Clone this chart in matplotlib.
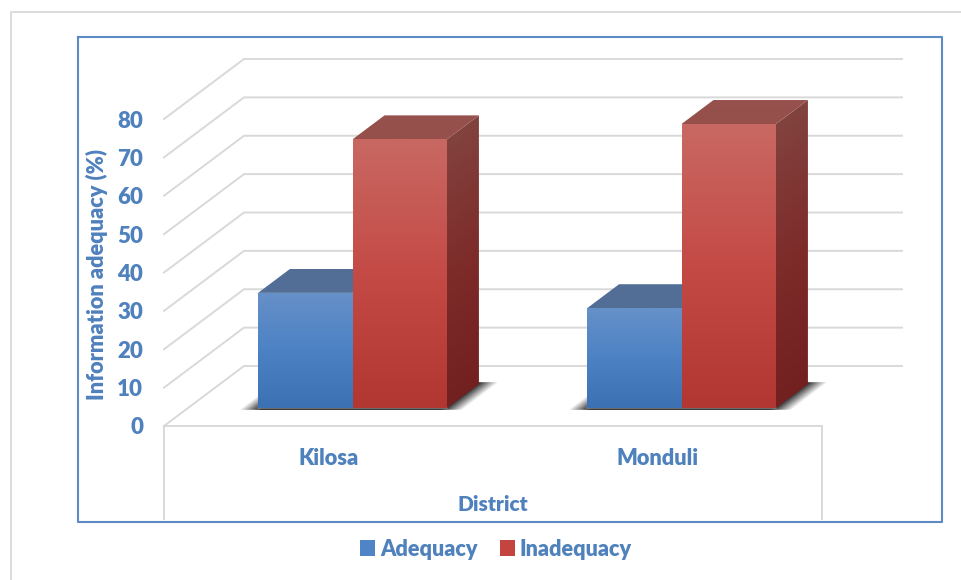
import numpy as np
import matplotlib
matplotlib.use("Agg")
import matplotlib.pyplot as plt
from matplotlib.patches import Patch, Polygon
from matplotlib.transforms import Affine2D

# chart data
districts = ["Kilosa", "Monduli"]
adequacy = [30, 26]
inadequacy = [70, 74]
y_ticks = [0, 10, 20, 30, 40, 50, 60, 70, 80]

# pixel layout of the original
W, H = 961, 580
left, right, top, bottom = 164, 822, 119, 426
px_x = (right - left) / 2.0  # pixels per category
px_y = (bottom - top) / 80.0  # pixels per percent
depth_x = 80 / px_x  # oblique shift of the back wall, data units
depth_y = 60 / px_y
bar_w = 0.287
bar_d0, bar_d1 = 0.3, 0.7

text_blue = "#4F81BD"
grid_grey = "#D9D9D9"

plt.rcParams["font.family"] = ["Lato", "DejaVu Sans"]
plt.rcParams["font.weight"] = 800
plt.rcParams["axes.labelweight"] = 800

fig = plt.figure(figsize=(W / 100, H / 100), dpi=100)

# page frames live in their own pixel axes
bg = fig.add_axes([0, 0, 1, 1])
bg.set_xlim(0, W)
bg.set_ylim(H, 0)
bg.axis("off")
bg.plot([10.5, 10.5, W], [H, 12, 12], color="#DCDCDC", lw=1.4)
bg.plot([78, 942, 942, 78, 78], [37, 37, 522, 522, 37], color="#5B8AC4", lw=1.5)

ax = fig.add_axes([left / W, 1 - bottom / H, (right - left) / W, (bottom - top) / H])
ax.patch.set_alpha(0)


def project(x, v, d):
    # oblique projection: depth d runs from 0 (front) to 1 (back wall)
    return x + d * depth_x, v + d * depth_y


def face(origin, u, w, img, z):
    # stretch an image over the parallelogram origin, origin+u, origin+w
    tr = Affine2D.from_values(u[0], u[1], w[0], w[1], origin[0], origin[1]) + ax.transData
    im = ax.imshow(img, extent=(0, 1, 0, 1), origin="lower", aspect="auto", interpolation="bilinear",
                   transform=tr, zorder=z)
    corners = [origin, (origin[0] + u[0], origin[1] + u[1]),
               (origin[0] + u[0] + w[0], origin[1] + u[1] + w[1]), (origin[0] + w[0], origin[1] + w[1])]
    # RGB images leave black corners outside the shear, so clip to the quad
    im.set_clip_path(Polygon(corners, closed=True, transform=ax.transData))
    im.set_clip_box(fig.bbox)


def grad(bot, mid, tp):
    # vertical three stop colour ramp, bottom first
    s = np.linspace(0, 1, 64)
    c = np.array([np.interp(s, [0, 0.5, 1], [bot[i], mid[i], tp[i]]) for i in range(3)]).T / 255.0
    return np.repeat(c[:, None, :], 2, axis=1)


def draw_bar(x0, x1, val, front, side, lid, z):
    o = project(x0, 0, bar_d0)
    du = (x1 - x0, 0)
    dd = ((bar_d1 - bar_d0) * depth_x, (bar_d1 - bar_d0) * depth_y)
    face(o, du, (0, val), front, z)
    face((o[0] + du[0], o[1]), dd, (0, val), side, z)
    face((o[0], val + o[1]), du, dd, lid, z)


def shadow(x0, x1):
    # soft dark patch on the floor below a bar pair
    m = 18 / px_x
    o = project(x0 - m, 0, bar_d0 - 0.03)
    u = (x1 - x0 + 2 * m, 0)
    w = (0.46 * depth_x, 0.46 * depth_y)
    s = np.linspace(0, 1, 128)
    edge = 22 / (px_x * u[0])
    alpha = np.clip(s / edge, 0, 1) * np.clip((1 - s) / edge, 0, 1)
    img = np.zeros((2, 128, 4))
    img[:, :, 3] = 0.95 * alpha
    face(o, u, w, img, 2)
    # contact line under the front faces
    xa, ya = project(x0, 0, bar_d0)
    ax.plot([xa, xa + x1 - x0], [ya, ya], color="#7F7F7F", lw=1.2, zorder=2.5, clip_on=False)


# back wall gridlines with their diagonal return
for t in y_ticks:
    xa, ya = project(-0.5, t, 0)
    xb, yb = project(-0.5, t, 1)
    xc, yc = project(1.5, t, 1)
    ax.plot([xa, xb, xc], [ya, yb, yc], color=grid_grey, lw=1.4, clip_on=False, zorder=1,
            solid_joinstyle="miter")

# front of the floor and the category box below it
drop = -93 / px_y
ax.plot([-0.5, -0.5, 1.5, 1.5], [drop, 0, 0, drop], color=grid_grey, lw=1.4, clip_on=False, zorder=1,
        solid_joinstyle="miter")

blue_front = grad((60, 113, 180), (76, 130, 196), (102, 144, 200))
blue_side = grad((40, 75, 120), (50, 85, 130), (60, 90, 130))
blue_lid = grad((82, 110, 150), (82, 110, 150), (82, 110, 150))
red_front = grad((178, 55, 50), (196, 74, 70), (201, 104, 98))
red_side = grad((115, 32, 32), (125, 44, 42), (130, 66, 62))
red_lid = grad((150, 80, 76), (150, 80, 76), (150, 82, 78))

for i in range(len(districts)):
    shadow(i - bar_w, i + bar_w)
    draw_bar(i - bar_w, i, adequacy[i], blue_front, blue_side, blue_lid, 3)
    draw_bar(i, i + bar_w, inadequacy[i], red_front, red_side, red_lid, 4)

ax.set_xlim(-0.5, 1.5)
ax.set_ylim(0, 80)
ax.set_xticks(range(len(districts)))
ax.set_xticklabels(districts)
ax.set_yticks(y_ticks)
for s in ax.spines.values():
    s.set_visible(False)
ax.tick_params(axis="x", length=0, pad=16, labelsize=15.7, labelcolor=text_blue)
ax.tick_params(axis="y", length=0, pad=15, labelsize=16, labelcolor=text_blue)
ax.set_xlabel("District", color=text_blue, fontsize=15)
ax.xaxis.set_label_coords(0.5, -0.224)
ax.set_ylabel("Information adequacy (%)", color=text_blue, fontsize=15.7)
ax.yaxis.set_label_coords(-56 / (right - left), 0.495)

handles = [Patch(facecolor="#4F85C6", label="Adequacy"), Patch(facecolor="#C4453F", label="Inadequacy")]
ax.legend(handles=handles, loc="center", bbox_to_anchor=(496 / W, 1 - 549 / H),
          bbox_transform=fig.transFigure, ncols=2, frameon=False, fontsize=15.6,
          labelcolor=text_blue, handlelength=0.68, handleheight=0.7, handletextpad=0.23,
          columnspacing=1.05, borderpad=0)

fig.savefig("out.png", dpi=100)
